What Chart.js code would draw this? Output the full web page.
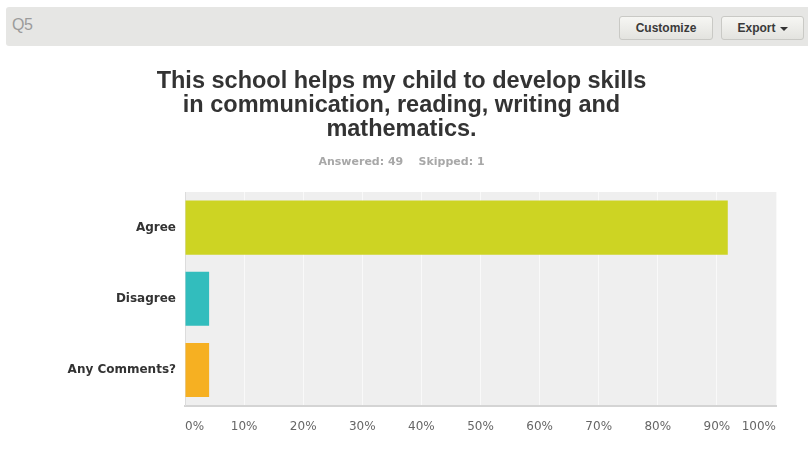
<!DOCTYPE html>
<html>
<head>
<meta charset="utf-8">
<script src="https://cdn.jsdelivr.net/npm/chart.js@4"></script>
<style>
  body { margin: 0; background: #fff; width: 808px; height: 469px; overflow: hidden; position: relative; font-family: "Liberation Sans", Arial, sans-serif; }
  .qbar { position: absolute; left: 6px; top: 7px; width: 802px; height: 39px; background: #e6e6e4; border-radius: 3px 0 0 3px; }
  .qbar .num { position: absolute; left: 6px; top: 9px; font-size: 16px; color: #9b9b9b; letter-spacing: -0.5px; }
  .btn { position: absolute; top: 9px; height: 22px; border: 1px solid #c9c9c5; border-radius: 3px;
         background: linear-gradient(#f6f6f3, #e3e3df); font-size: 12px; font-weight: bold; color: #3a3a3a;
         line-height: 22px; text-align: center; box-sizing: content-box; }
  .caret { display: inline-block; width: 0; height: 0; border-left: 4px solid transparent; border-right: 4px solid transparent;
           border-top: 4px solid #333; vertical-align: middle; margin-left: 4px; }
  #wrap { position: absolute; left: 0; top: 50px; width: 808px; height: 419px; }
</style>
</head>
<body>
<div class="qbar">
  <span class="num">Q5</span>
  <div class="btn" style="left:613px;width:92px;">Customize</div>
  <div class="btn" style="left:715px;width:81px;">Export<span class="caret"></span></div>
</div>
<div id="wrap"><canvas id="myChart" width="808" height="419"></canvas></div>
<script>
// answer choices and share of respondents (45, 2, 2 of 49)
const choices = ['Agree', 'Disagree', 'Any Comments?'];
const percents = [91.84, 4.08, 4.08];
const barColors = ['#cdd423', '#32bdbd', '#f6b022'];
const titleLines = ['This school helps my child to develop skills', 'in communication, reading, writing and', 'mathematics.'];
const answeredText = 'Answered: 49    Skipped: 1';

const plotBg = {
    id: 'plotBg',
    beforeDraw(chart) {
        const a = chart.chartArea;
        const ctx = chart.ctx;
        ctx.save();
        ctx.fillStyle = '#efefef';
        ctx.fillRect(a.left, a.top, a.right - a.left, a.bottom - a.top);
        ctx.restore();
    }
};

const ctx = document.querySelector('#myChart').getContext('2d');
new Chart(ctx, {
    type: 'bar',
    data: {
        labels: choices,
        datasets: [{
            data: percents,
            backgroundColor: barColors,
            borderWidth: 0,
            barPercentage: 0.76,
            categoryPercentage: 1
        }]
    },
    options: {
        indexAxis: 'y',
        responsive: false,
        animation: false,
        devicePixelRatio: 1,
        layout: { padding: { left: 0, right: 5, top: 0, bottom: 21 } },
        scales: {
            x: {
                min: 0,
                max: 100,
                grid: { color: '#f9f9f9', lineWidth: 1, drawTicks: false },
                border: { display: true, color: '#d4d4d4', width: 2 },
                ticks: {
                    stepSize: 10,
                    padding: 14,
                    align: 'inner',
                    color: '#666',
                    font: { family: 'DejaVu Sans', size: 12 },
                    callback: v => v + '%'
                }
            },
            y: {
                grid: { display: false, drawTicks: false },
                border: { display: true, color: '#dcdcdc', width: 1 },
                ticks: {
                    padding: 9,
                    color: '#333',
                    font: { family: 'DejaVu Sans', size: 12, weight: 'bold' }
                },
                afterFit(scale) { scale.width = 185; }
            },
            // empty right-hand strip so the plot stops short of the edge
            gap: {
                axis: 'y',
                position: 'right',
                grid: { display: false, drawTicks: false },
                border: { display: false },
                ticks: { display: false },
                afterFit(scale) { scale.width = 27; }
            }
        },
        plugins: {
            legend: { display: false },
            tooltip: { enabled: false },
            title: {
                display: true,
                text: titleLines,
                color: '#333',
                font: { family: 'Liberation Sans', size: 23.5, weight: 'bold', lineHeight: 24 / 23.5 },
                padding: { top: 20, bottom: 14 }
            },
            subtitle: {
                display: true,
                text: answeredText,
                color: '#a8a8a8',
                font: { family: 'DejaVu Sans', size: 11, weight: 'bold', lineHeight: 12 / 11 },
                padding: { top: 0, bottom: 24 }
            }
        }
    },
    plugins: [plotBg]
});
</script>
</body>
</html>
